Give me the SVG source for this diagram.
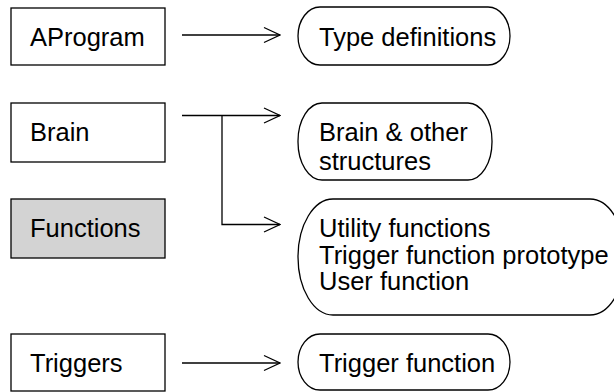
<svg xmlns="http://www.w3.org/2000/svg" width="614" height="392" viewBox="0 0 614 392">
  <style>
    .box { fill: #ffffff; stroke: #000000; stroke-width: 1.3; }
    .grey { fill: #d3d3d3; }
    .term { fill: #ffffff; stroke: #000000; stroke-width: 1.3; }
    .lbl { font-family: "Liberation Sans", Arial, sans-serif; font-size: 25.5px; fill: #000000; }
    .conn { fill: none; stroke: #000000; stroke-width: 1.3; }
  </style>
  <defs>
    <marker id="open" viewBox="0 0 18 18" refX="17" refY="9" markerWidth="18" markerHeight="18" markerUnits="userSpaceOnUse" orient="auto">
      <path d="M1,1.5 L17,9 L1,16.5" fill="none" stroke="#000000" stroke-width="1.3"/>
    </marker>
  </defs>

  <!-- source modules -->
  <g id="aprogram">
    <rect class="box" x="11" y="8" width="154" height="57"/>
    <text class="lbl" x="30" y="46">AProgram</text>
  </g>
  <g id="brain">
    <rect class="box" x="11" y="103" width="154" height="59"/>
    <text class="lbl" x="30" y="141">Brain</text>
  </g>
  <g id="functions">
    <rect class="box grey" x="11" y="199" width="154" height="59"/>
    <text class="lbl" x="30" y="237">Functions</text>
  </g>
  <g id="triggers">
    <rect class="box" x="11" y="334" width="154" height="57"/>
    <text class="lbl" x="30" y="372">Triggers</text>
  </g>

  <!-- contents -->
  <g id="type-definitions">
    <rect class="term" x="298" y="7" width="212" height="58" rx="22" ry="29"/>
    <text class="lbl" x="319" y="46">Type definitions</text>
  </g>
  <g id="brain-structures">
    <rect class="term" x="298" y="103" width="194" height="77" rx="24" ry="38"/>
    <text class="lbl" x="319" y="141">Brain &amp; other</text>
    <text class="lbl" x="319" y="170">structures</text>
  </g>
  <g id="function-list">
    <rect class="term" x="298" y="199" width="327" height="116" rx="35" ry="58"/>
    <text class="lbl" x="319" y="237">Utility functions</text>
    <text class="lbl" x="319" y="264">Trigger function prototype</text>
    <text class="lbl" x="319" y="290">User function</text>
  </g>
  <g id="trigger-function">
    <rect class="term" x="298" y="334" width="212" height="56" rx="22" ry="28"/>
    <text class="lbl" x="319" y="372">Trigger function</text>
  </g>

  <!-- connectors -->
  <g id="connectors">
    <path class="conn" d="M182,35 H280" marker-end="url(#open)"/>
    <path class="conn" d="M182,115.5 H280" marker-end="url(#open)"/>
    <path class="conn" d="M222,115.5 V224.5 H280" marker-end="url(#open)"/>
    <path class="conn" d="M182,363 H280" marker-end="url(#open)"/>
  </g>
</svg>
